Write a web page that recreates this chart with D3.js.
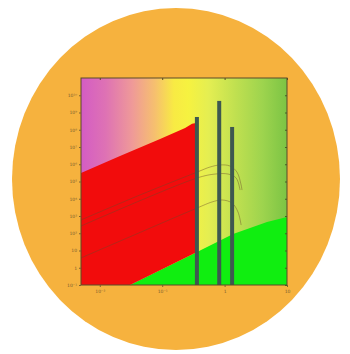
<!DOCTYPE html>
<html>
<head>
<meta charset="utf-8">
<script src="https://cdn.jsdelivr.net/npm/d3@7"></script>
<style>
  html, body { margin: 0; padding: 0; background: #ffffff; }
  svg { display: block; }
</style>
</head>
<body>
<svg id="chart" width="350" height="354"></svg>
<script>
// Axis extents and tick labels
const xDomain = [0.005, 10];
const yDomain = [0.1, 1e11];
const xTickValues = [0.01, 0.1, 1, 10];
const xTickLabels = ["10⁻²", "10⁻¹", "1", "10"];
const yTickValues = [0.1, 1, 10, 1e2, 1e3, 1e4, 1e5, 1e6, 1e7, 1e8, 1e9, 1e10];
const yTickLabels = ["10⁻¹", "1", "10", "10²", "10³", "10⁴", "10⁵", "10⁶", "10⁷", "10⁸", "10⁹", "10¹⁰"];

// Excluded region (red): boundary as [x, y] pairs
const redRegion = [
  [0.005, 3.1e5], [0.0211, 3.0e6], [0.0925, 2.9e7], [0.233, 1.26e8],
  [0.301, 2.2e8], [0.349, 2.45e8], [0.362, 1.65e8], [0.362, 8.1],
  [0.0305, 0.1], [0.005, 0.1]
];

// Allowed region (green): boundary as [x, y] pairs
const greenRegion = [
  [0.0305, 0.1], [0.362, 8.1], [1.37, 91], [4.79, 447], [10, 870], [10, 0.1]
];

// Bound curves
const curveA = [[0.005, 590], [0.0442, 1.66e4], [0.362, 3.5e5], [0.585, 6.9e5],
  [0.847, 9.1e5], [1.22, 7.9e5], [1.58, 3.5e5], [1.84, 6.3e4], [1.9, 3.2e4]];
const curveB = [[0.005, 263], [0.362, 1.6e5], [0.703, 2.7e5], [1.14, 2.7e5],
  [1.53, 1.6e5], [1.77, 3.2e4]];
const curveC = [[0.005, 3.7], [0.362, 2.9e3], [0.629, 6.5e3], [0.912, 8.5e3],
  [1.32, 5.6e3], [1.64, 1.7e3], [1.84, 300]];

// Vertical limits: position and upper value
const barX = [0.36, 0.82, 1.32];
const barTop = [5.5e8, 4.7e9, 1.45e8];

const svg = d3.select("#chart");

// Orange disc behind the chart
svg.append("ellipse")
  .attr("cx", 176).attr("cy", 179).attr("rx", 164).attr("ry", 171)
  .attr("fill", "#f6b23e");

const pL = 81, pR = 287, pT = 78, pB = 285;
const x = d3.scaleLog().domain(xDomain).range([pL, pR]);
const y = d3.scaleLog().domain(yDomain).range([pB, pT]);

const defs = svg.append("defs");
const grad = defs.append("linearGradient").attr("id", "bg")
  .attr("x1", "0%").attr("x2", "100%").attr("y1", "0%").attr("y2", "0%");
[
  [0, "#d45cc4"], [0.12, "#de72b4"], [0.25, "#ef9a98"], [0.36, "#f6c06e"],
  [0.45, "#f8ea44"], [0.52, "#f6f240"], [0.62, "#e4ee52"], [0.75, "#c0e050"],
  [0.88, "#9ed44e"], [1, "#7cc444"]
].forEach(([o, c]) => grad.append("stop").attr("offset", o).attr("stop-color", c));

defs.append("clipPath").attr("id", "plotClip")
  .append("rect").attr("x", pL).attr("y", pT)
  .attr("width", pR - pL).attr("height", pB - pT);

svg.append("rect").attr("x", pL).attr("y", pT)
  .attr("width", pR - pL).attr("height", pB - pT)
  .attr("fill", "url(#bg)");

const plot = svg.append("g").attr("clip-path", "url(#plotClip)");

const poly = d3.line().x(d => x(d[0])).y(d => y(d[1]));
const smooth = d3.line().x(d => x(d[0])).y(d => y(d[1])).curve(d3.curveCatmullRom);

plot.append("path").datum(greenRegion)
  .attr("d", poly)
  .attr("fill", "#10ee10");

plot.append("path").datum(redRegion)
  .attr("d", poly)
  .attr("fill", "#f20c0c");

[curveA, curveB, curveC].forEach(c => {
  plot.append("path").datum(c)
    .attr("d", smooth)
    .attr("fill", "none")
    .attr("stroke", "#6a4a2a")
    .attr("stroke-opacity", 0.55)
    .attr("stroke-width", 0.8);
});

plot.selectAll("rect.limit")
  .data(barX.map((v, i) => ({ x: v, top: barTop[i] })))
  .enter().append("rect")
  .attr("class", "limit")
  .attr("x", d => x(d.x) - 2)
  .attr("width", 4)
  .attr("y", d => y(d.top))
  .attr("height", d => pB - y(d.top))
  .attr("fill", "#3e5850");

// Frame
svg.append("rect").attr("x", pL).attr("y", pT)
  .attr("width", pR - pL).attr("height", pB - pT)
  .attr("fill", "none").attr("stroke", "#5a4a28").attr("stroke-width", 1);

// Axes
const yAxis = d3.axisLeft(y).tickValues(yTickValues)
  .tickFormat((d, i) => yTickLabels[i]).tickSize(2).tickPadding(2);
const gy = svg.append("g").attr("transform", `translate(${pL},0)`).call(yAxis);
gy.select(".domain").remove();
gy.selectAll("line").attr("stroke", "#7a6030");
gy.selectAll("text").attr("fill", "#7a6030")
  .style("font", "4.5px 'DejaVu Sans', sans-serif");

const yAxisR = d3.axisRight(y).tickValues(yTickValues).tickFormat("").tickSize(-2);
const gyr = svg.append("g").attr("transform", `translate(${pR},0)`).call(yAxisR);
gyr.select(".domain").remove();
gyr.selectAll("line").attr("stroke", "#4a5a28");

const xAxis = d3.axisBottom(x).tickValues(xTickValues)
  .tickFormat((d, i) => xTickLabels[i]).tickSize(2).tickPadding(3);
const gx = svg.append("g").attr("transform", `translate(0,${pB})`).call(xAxis);
gx.select(".domain").remove();
gx.selectAll("line").attr("stroke", "#7a6030");
gx.selectAll("text").attr("fill", "#7a6030")
  .style("font", "4.5px 'DejaVu Sans', sans-serif");

const xAxisT = d3.axisTop(x).tickValues(xTickValues).tickFormat("").tickSize(-2);
const gxt = svg.append("g").attr("transform", `translate(0,${pT})`).call(xAxisT);
gxt.select(".domain").remove();
gxt.selectAll("line").attr("stroke", "#5a4a28");
</script>
</body>
</html>
